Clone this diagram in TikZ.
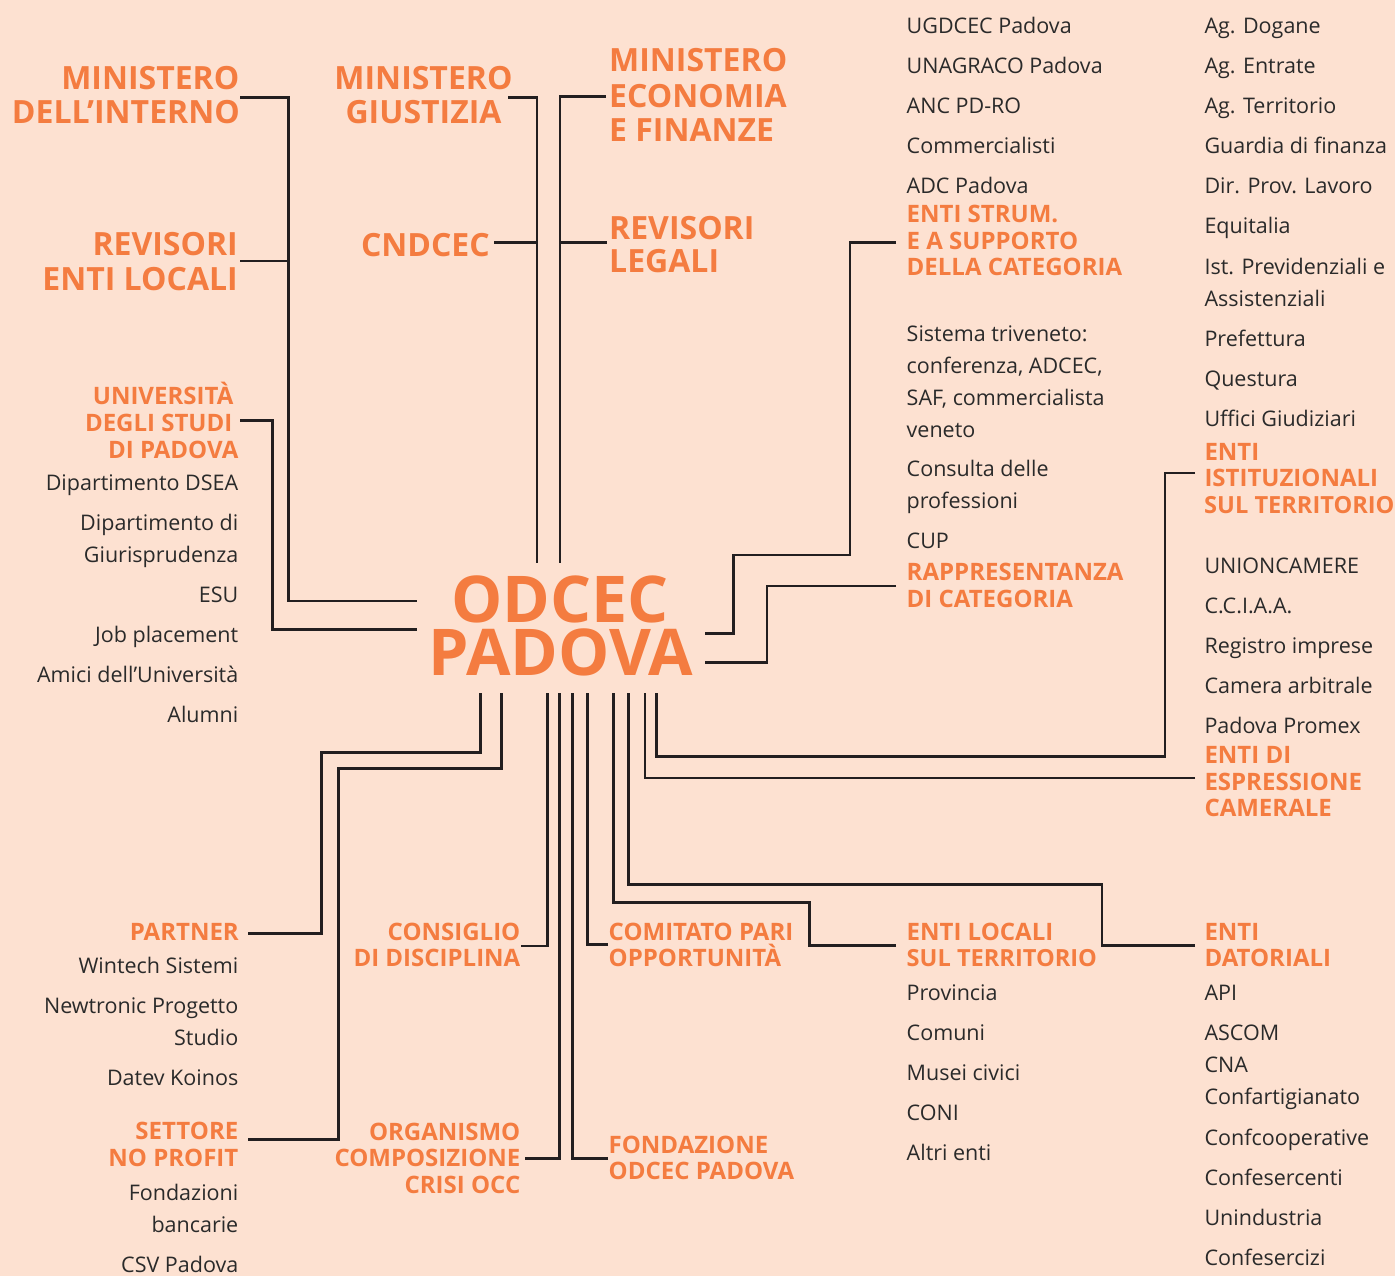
\documentclass[tikz,border=0pt]{standalone}
\usepackage{fontspec}
\setmainfont{Open Sans}
\definecolor{bgc}{HTML}{FDE1D1}
\definecolor{org}{HTML}{F47C40}
\definecolor{txt}{HTML}{2A2A2A}
\definecolor{lnc}{HTML}{231F20}
\tikzset{
  bk/.style={inner sep=0pt, text=txt, font=\fontsize{21.5}{26}\selectfont},
  om/.style={inner sep=0pt, text=org, font=\bfseries\fontsize{24}{28}\selectfont},
  oms/.style={inner sep=0pt, text=org, font=\bfseries\fontsize{23.6}{28}\selectfont},
  ob/.style={inner sep=0pt, text=org, font=\bfseries\fontsize{32}{36}\selectfont},
  hubtxt/.style={inner sep=0pt, text=org, font=\bfseries\fontsize{64.5}{68}\selectfont},
  lw/.style={anchor=base west},
  re/.style={anchor=base east},
  ce/.style={anchor=base},
  conn/.style={draw=lnc, line width=2.8pt, line join=miter, line cap=butt}
}
\begin{document}
\begin{tikzpicture}[x=1pt,y=-1pt]
\fill[bgc] (0,0) rectangle (1395,1276);
\useasboundingbox (0,0) rectangle (1395,1276);

% ---------- hub ----------
\node[hubtxt,ce,text depth=0pt] (hub1) at (560,622) {ODCEC};
\node[hubtxt,ce,text height=44pt] (hub2) at (561,675) {PADOVA};

% ---------- top left ----------
\node[ob,re] (mi1) at (239.5,90) {MINISTERO};
\node[ob,re] (mi2) at (240,123.3) {DELL’INTERNO};
\node[ob,re] (rel1) at (238,255) {REVISORI};
\node[ob,re] (rel2) at (238,290) {ENTI LOCALI};

\node[ob,ce] (mg1) at (423.5,90) {MINISTERO};
\node[ob,ce] (mg2) at (423.5,123.3) {GIUSTIZIA};
\node[ob,re] (cnd) at (490,256) {CNDCEC};

\node[ob,lw] (me1) at (609,71.7) {MINISTERO};
\node[ob,lw] (me2) at (609,107.3) {ECONOMIA};
\node[ob,lw] (me3) at (609,141.7) {E FINANZE};
\node[ob,lw] (rl1) at (609,239.3) {REVISORI};
\node[ob,lw] (rl2) at (609,272.7) {LEGALI};

% ---------- university ----------
\node[om,re] (un1) at (233.5,404) {UNIVERSITÀ};
\node[om,re] (un2) at (232.5,431) {DEGLI STUDI};
\node[om,re] (un3) at (238.5,458) {DI PADOVA};
\node[bk,re] (u1) at (238.5,490.7) {Dipartimento DSEA};
\node[bk,re] (u2) at (238.5,530.3) {Dipartimento di};
\node[bk,re] (u3) at (238.5,562.7) {Giurisprudenza};
\node[bk,re] (u4) at (238.5,602.7) {ESU};
\node[bk,re] (u5) at (238.5,642.7) {Job placement};
\node[bk,re] (u6) at (238.5,682.7) {Amici dell’Università};
\node[bk,re] (u7) at (238.5,722.3) {Alumni};

% ---------- partner / no profit ----------
\node[om,re] (pa) at (239,940.7) {PARTNER};
\node[bk,re] (p1) at (238.5,973.3) {Wintech Sistemi};
\node[bk,re] (p2) at (238.5,1013.3) {Newtronic Progetto};
\node[bk,re] (p3) at (238.5,1045.7) {Studio};
\node[bk,re] (p4) at (238.5,1085.3) {Datev Koinos};
\node[om,re] (np1) at (238.5,1139.3) {SETTORE};
\node[om,re] (np2) at (238.5,1166.7) {NO PROFIT};
\node[bk,re] (n1) at (238.5,1200.7) {Fondazioni};
\node[bk,re] (n2) at (238.5,1232.7) {bancarie};
\node[bk,re] (n3) at (238.5,1272) {CSV Padova};

% ---------- bottom middle ----------
\node[om,re] (cd1) at (520.5,940.7) {CONSIGLIO};
\node[om,re] (cd2) at (520.5,966.7) {DI DISCIPLINA};
\node[om,re] (oc1) at (520.5,1140) {ORGANISMO};
\node[om,re] (oc2) at (520.5,1166.7) {COMPOSIZIONE};
\node[om,re] (oc3) at (520.5,1193.3) {CRISI OCC};
\node[om,lw] (cp1) at (608.5,940.7) {COMITATO PARI};
\node[om,lw] (cp2) at (608.5,966.7) {OPPORTUNITÀ};
\node[om,lw] (fo1) at (608.5,1153.3) {FONDAZIONE};
\node[om,lw] (fo2) at (608.5,1179.3) {ODCEC PADOVA};

% ---------- right column 1 ----------
\node[bk,lw] (a1) at (906.5,34) {UGDCEC Padova};
\node[bk,lw] (a2) at (906.5,74) {UNAGRACO Padova};
\node[bk,lw] (a3) at (906.5,114) {ANC PD-RO};
\node[bk,lw] (a4) at (906.5,154) {Commercialisti};
\node[bk,lw] (a5) at (906.5,194) {ADC Padova};
\node[om,lw] (es1) at (906.5,222.3) {ENTI STRUM.};
\node[om,lw] (es2) at (906.5,249.3) {E A SUPPORTO};
\node[om,lw] (es3) at (906.5,275.7) {DELLA CATEGORIA};
\node[bk,lw] (b1) at (906.5,341) {Sistema triveneto:};
\node[bk,lw] (b2) at (906.5,373) {conferenza, ADCEC,};
\node[bk,lw] (b3) at (906.5,405) {SAF, commercialista};
\node[bk,lw] (b4) at (906.5,437) {veneto};
\node[bk,lw] (b5) at (906.5,476.5) {Consulta delle};
\node[bk,lw] (b6) at (906.5,508.5) {professioni};
\node[bk,lw] (b7) at (906.5,548) {CUP};
\node[om,lw] (rc1) at (906.5,580.7) {RAPPRESENTANZA};
\node[om,lw] (rc2) at (906.5,607.3) {DI CATEGORIA};
\node[om,lw] (el1) at (906.5,940.7) {ENTI LOCALI};
\node[oms,lw] (el2) at (906.5,966.7) {SUL TERRITORIO};
\node[bk,lw] (l1) at (906.5,1000.7) {Provincia};
\node[bk,lw] (l2) at (906.5,1040.7) {Comuni};
\node[bk,lw] (l3) at (906.5,1080.7) {Musei civici};
\node[bk,lw] (l4) at (906.5,1120.7) {CONI};
\node[bk,lw] (l5) at (906.5,1160.7) {Altri enti};

% ---------- right column 2 ----------
\node[bk,lw] (g1) at (1204.3,34) {Ag. Dogane};
\node[bk,lw] (g2) at (1204.3,74) {Ag. Entrate};
\node[bk,lw] (g3) at (1204.3,114) {Ag. Territorio};
\node[bk,lw] (g4) at (1204.3,154) {Guardia di finanza};
\node[bk,lw] (g5) at (1204.3,194) {Dir. Prov. Lavoro};
\node[bk,lw] (g6) at (1204.3,234) {Equitalia};
\node[bk,lw] (g7) at (1204.3,274) {Ist. Previdenziali e};
\node[bk,lw] (g8) at (1204.3,306) {Assistenziali};
\node[bk,lw] (g9) at (1204.3,346) {Prefettura};
\node[bk,lw] (g10) at (1204.3,386) {Questura};
\node[bk,lw] (g11) at (1204.3,426) {Uffici Giudiziari};
\node[om,lw] (ei1) at (1204.3,460.5) {ENTI};
\node[om,lw] (ei2) at (1204.3,486.7) {ISTITUZIONALI};
\node[oms,lw] (ei3) at (1204,513) {SUL TERRITORIO};
\node[bk,lw] (h1) at (1204.3,573.3) {UNIONCAMERE};
\node[bk,lw] (h2) at (1204.3,613.3) {C.C.I.A.A.};
\node[bk,lw] (h3) at (1204.3,653) {Registro imprese};
\node[bk,lw] (h4) at (1204.3,693) {Camera arbitrale};
\node[bk,lw] (h5) at (1204.3,733) {Padova Promex};
\node[om,lw] (ec1) at (1204.3,763.5) {ENTI DI};
\node[om,lw] (ec2) at (1204.3,790) {ESPRESSIONE};
\node[om,lw] (ec3) at (1204.3,816.3) {CAMERALE};
\node[om,lw] (ed1) at (1204.3,940.7) {ENTI};
\node[om,lw] (ed2) at (1204.3,966.7) {DATORIALI};
\node[bk,lw] (d1) at (1204.3,1000.7) {API};
\node[bk,lw] (d2) at (1204.3,1040.7) {ASCOM};
\node[bk,lw] (d3) at (1204.3,1072.7) {CNA};
\node[bk,lw] (d4) at (1204.3,1104.5) {Confartigianato};
\node[bk,lw] (d5) at (1204.3,1145) {Confcooperative};
\node[bk,lw] (d6) at (1204.3,1185) {Confesercenti};
\node[bk,lw] (d7) at (1204.3,1225) {Unindustria};
\node[bk,lw] (d8) at (1204.3,1265) {Confesercizi};

% ---------- connector end points ----------
\coordinate (kMI) at (240,97.3);
\coordinate (kREL) at (240,261);
\coordinate (kUN) at (240,420.7);
\coordinate (kHL1) at (416.7,601);
\coordinate (kHL2) at (416.7,629.3);
\coordinate (kMG) at (508,97.3);
\coordinate (kCN) at (494,242.7);
\coordinate (kHT1) at (537,562.7);
\coordinate (kME) at (606,96.7);
\coordinate (kRL) at (607,242.7);
\coordinate (kHT2) at (560,562.7);
\coordinate (kES) at (896,242.7);
\coordinate (kRC) at (896,586);
\coordinate (kHR1) at (705,633.3);
\coordinate (kHR2) at (705,662.7);
\coordinate (kEI) at (1195,473);
\coordinate (kEC) at (1195,778);
\coordinate (kED) at (1195,945.5);
\coordinate (kEL) at (896,945.7);
\coordinate (kCP) at (608,944.5);
\coordinate (kFO) at (608,1158.3);
\coordinate (kOC) at (525,1158.3);
\coordinate (kCD) at (521,946);
\coordinate (kPA) at (248,933.5);
\coordinate (kNP) at (248,1139.5);

% ---------- connectors ----------
\draw[conn] (kMI) -- (288.3,97.3) -- (288.3,601) -- (kHL1);
\draw[conn] (kREL) -- (288.3,261);
\draw[conn] (kUN) -- (272.7,420.7) -- (272.7,629.3) -- (kHL2);
\draw[conn] (kMG) -- (537,97.3) -- (kHT1);
\draw[conn] (kCN) -- (537,242.7);
\draw[conn] (kME) -- (560,96.7) -- (kHT2);
\draw[conn] (560,242.7) -- (kRL);
\draw[conn] (kES) -- (850,242.7) -- (850,555) -- (733.5,555) -- (733.5,633.3) -- (kHR1);
\draw[conn] (kRC) -- (767,586) -- (767,662.7) -- (kHR2);
\draw[conn] (kEI) -- (1165,473) -- (1165,756.7) -- (656.7,756.7) -- (656.7,692.7);
\draw[conn] (kEC) -- (645,778) -- (645,692.7);
\draw[conn] (kED) -- (1102,945.5) -- (1102,884.3) -- (628.7,884.3) -- (628.7,692.7);
\draw[conn] (kEL) -- (809.7,945.7) -- (809.7,902.3) -- (613.4,902.3) -- (613.4,692.7);
\draw[conn] (kCP) -- (587.3,944.5) -- (587.3,692.7);
\draw[conn] (kFO) -- (572.7,1158.3) -- (572.7,692.7);
\draw[conn] (kOC) -- (559.3,1158.3) -- (559.3,692.7);
\draw[conn] (kCD) -- (547.3,946) -- (547.3,692.7);
\draw[conn] (kPA) -- (321.5,933.5) -- (321.5,752.3) -- (480.3,752.3) -- (480.3,692.7);
\draw[conn] (kNP) -- (338.5,1139.5) -- (338.5,768.7) -- (501.7,768.7) -- (501.7,692.7);
\end{tikzpicture}
\end{document}
